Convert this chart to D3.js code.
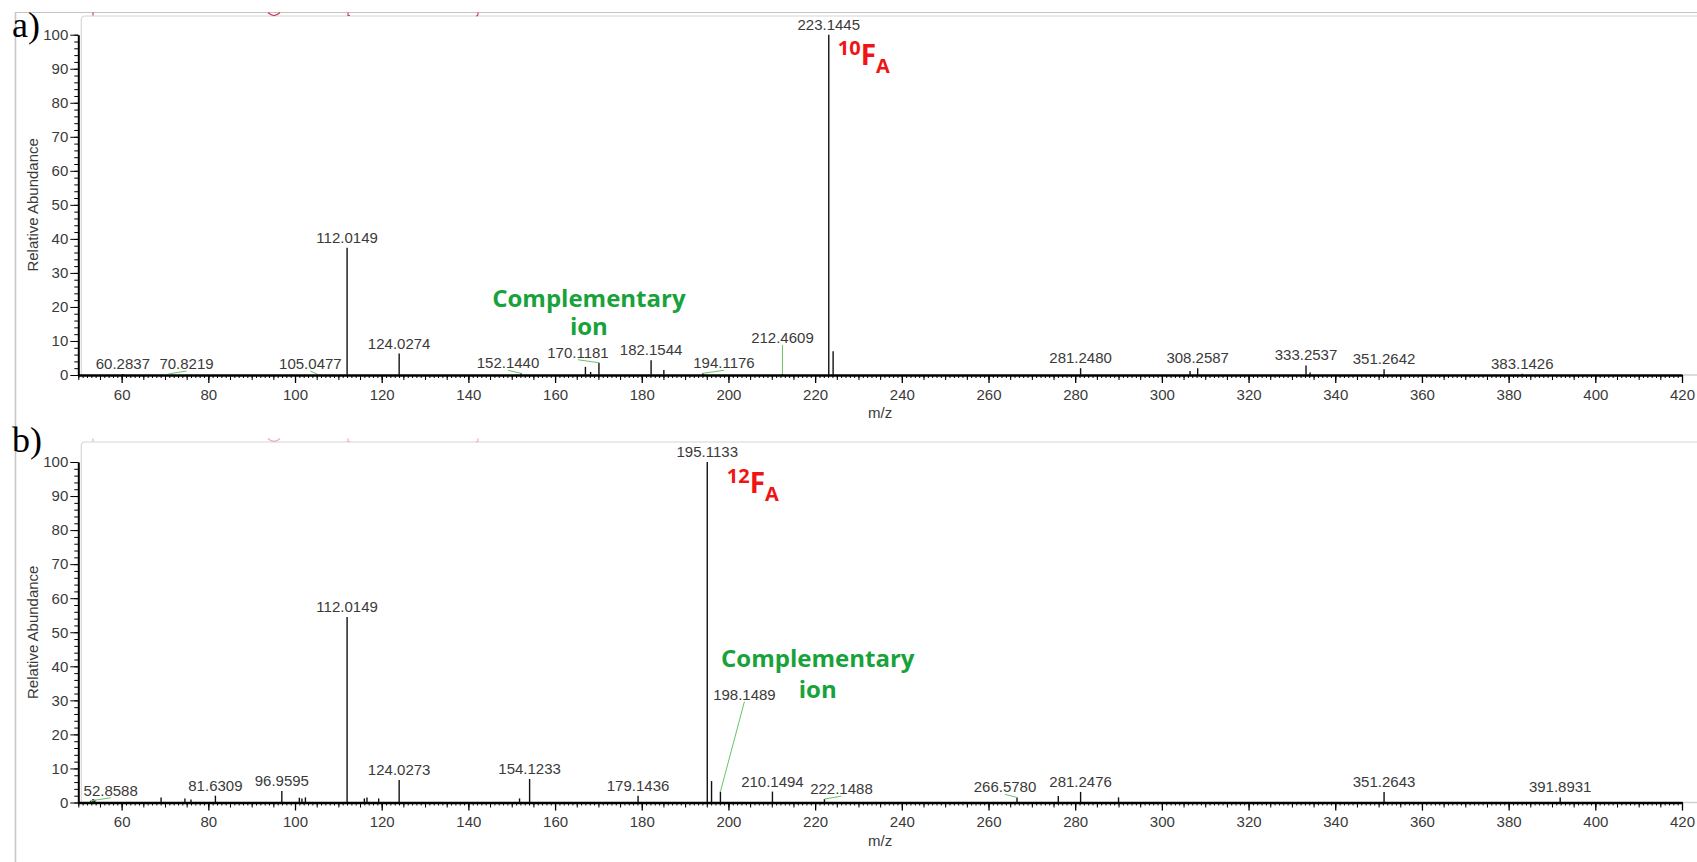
<!DOCTYPE html>
<html>
<head>
<meta charset="utf-8">
<script src="https://cdnjs.cloudflare.com/ajax/libs/d3/7.8.5/d3.min.js"></script>
<style>
	body { margin: 0; background: #fff; }
	svg { display: block; }
	.tick text { font-family: "Liberation Sans", Arial, sans-serif; font-size: 15px; fill: #3a3a3a; }
	.peak-label { font-family: "Liberation Sans", Arial, sans-serif; font-size: 15px; fill: #3a3a3a; }
	.axis-title { font-family: "Liberation Sans", Arial, sans-serif; font-size: 15px; fill: #3a3a3a; }
	.tag { font-family: "Liberation Serif", "Times New Roman", serif; font-size: 36px; fill: #000; }
	.iso { font-family: "Open Sans", sans-serif; font-weight: 700; fill: #f01414; }
	.comp { font-family: "Open Sans", sans-serif; font-weight: 700; font-size: 24px; fill: #17a23a; }
</style>
</head>
<body>
<svg id="chart" width="1697" height="862"></svg>
<script>
// NOTE data
const mzDomain = [50, 420];
const xTickLabels = [60, 80, 100, 120, 140, 160, 180, 200, 220, 240, 260, 280, 300, 320, 340, 360, 380, 400, 420];
const yTickLabels = [0, 10, 20, 30, 40, 50, 60, 70, 80, 90, 100];

// a) [m/z, relative abundance %]
const peaksA = [
	[60.2837, 0.3],
	[70.8219, 0.3],
	[105.0477, 0.3],
	[112.0149, 37.4],
	[124.0274, 6.3],
	[152.144, 0.5],
	[167.0, 2.4],
	[168.2, 0.9],
	[170.1181, 3.6],
	[182.1544, 4.3],
	[185.1, 1.5],
	[194.1176, 0.5],
	[212.4609, 0.3],
	[223.1445, 100],
	[224.15, 7.0],
	[281.248, 2.0],
	[306.5, 1.2],
	[308.2587, 2.0],
	[333.2537, 2.8],
	[334.2, 0.7],
	[351.2642, 1.7],
	[383.1426, 0.4],
];
const labelsA = ['60.2837', '70.8219', '105.0477', '112.0149', '124.0274', '152.1440', '170.1181',
	'182.1544', '194.1176', '212.4609', '223.1445', '281.2480', '308.2587', '333.2537', '351.2642', '383.1426'];

// b) [m/z, relative abundance %]
const peaksB = [
	[52.8588, 0.5],
	[53.4, 1.0],
	[53.8, 0.8],
	[69.1, 1.5],
	[74.6, 1.2],
	[76.0, 0.9],
	[81.6309, 2.0],
	[96.9595, 3.4],
	[101.0, 1.4],
	[101.6, 1.2],
	[102.4, 1.5],
	[112.0149, 54.5],
	[116.0, 1.2],
	[116.6, 1.5],
	[119.3, 1.2],
	[124.0273, 6.6],
	[151.8, 1.2],
	[154.1233, 6.9],
	[179.1436, 2.0],
	[195.1133, 100],
	[196.1, 6.3],
	[198.1489, 3.2],
	[210.1494, 3.2],
	[222.1488, 1.0],
	[266.578, 1.5],
	[276.1, 1.9],
	[281.2476, 3.1],
	[290.0, 1.5],
	[351.2643, 3.1],
	[391.8931, 1.5],
];
const labelsB = ['52.8588', '81.6309', '96.9595', '112.0149', '124.0273', '154.1233', '179.1436', '195.1133',
	'198.1489', '210.1494', '222.1488', '266.5780', '281.2476', '351.2643', '391.8931'];

// label nudges in px [dx, dy] (with a green leader line back to the peak)
const nudgeA = { '70.8219': [18, 0], '105.0477': [-6.5, 0], '152.1440': [-13, 0], '170.1181': [-21, 0], '194.1176': [21, 0], '212.4609': [0, -26] };
const nudgeB = { '52.8588': [20, 0], '198.1489': [24, -87], '222.1488': [17, 0], '266.5780': [-12, 0] };

const panels = [
	{ tag: 'a)', tagY: 37, y0: 375, y100: 34.7, peaks: peaksA, labels: labelsA, nudge: nudgeA,
		base: '223.1445', iso: '10', isoDx: 9, comp: [[167.8, 20.0], [167.8, 11.75]], frameY: 16 },
	{ tag: 'b)', tagY: 452, y0: 802.5, y100: 462, peaks: peaksB, labels: labelsB, nudge: nudgeB,
		base: '195.1133', iso: '12', isoDx: 19.5, comp: [[220.6, 39.8], [220.6, 30.7]], frameY: 442 },
];

const svg = d3.select('#chart');
const x = d3.scaleLinear().domain(mzDomain).range([78.3, 1682]);

// NOTE screenshot frame
svg.append('line').attr('x1', 15).attr('x2', 1697).attr('y1', 12.5).attr('y2', 12.5)
	.attr('stroke', '#c4c4c4').attr('stroke-width', 1.2);
svg.append('line').attr('x1', 15.5).attr('x2', 15.5).attr('y1', 12).attr('y2', 862)
	.attr('stroke', '#c8c8c8').attr('stroke-width', 1.6);

panels.forEach((p) => {
	const y = d3.scaleLinear().domain([0, 100]).range([p.y0, p.y100]);
	const g = svg.append('g');

	// inner plot frame with rounded corner
	g.append('path')
		.attr('d', `M${x.range()[0] + 3},${p.y0} V${p.frameY + 4} q0,-4 4,-4 H1697`)
		.attr('fill', 'none').attr('stroke', '#d6d6d6').attr('stroke-width', 1.2);

	// cut-off red title remnants
	const ty = p.frameY - 3.5;
	const red = p.tag === 'a)' ? '#d23c5a' : '#eab0bd';
	g.append('path')
		.attr('d', `M93,${ty} v3 M268,${ty} q6,6 12,0 M348,${ty} v3 h2 M478,${ty} v2 q0,1.5 -2,1.5`)
		.attr('fill', 'none').attr('stroke', red).attr('stroke-width', 1.2);

	// baseline continuation past 420
	g.append('line').attr('x1', x.range()[1]).attr('x2', 1697).attr('y1', p.y0).attr('y2', p.y0)
		.attr('stroke', '#d0d0d0').attr('stroke-width', 1.5);

	// y axis
	g.append('g')
		.attr('transform', `translate(${x.range()[0]},0)`)
		.call(d3.axisLeft(y).tickValues(d3.range(0, 101, 2)).tickSize(4).tickSizeOuter(0).tickFormat(''))
		.call((a) => a.select('.domain').remove());
	const ya = g.append('g')
		.attr('transform', `translate(${x.range()[0]},0)`)
		.call(d3.axisLeft(y).tickValues(yTickLabels).tickSize(8).tickSizeOuter(0).tickPadding(2));
	ya.select('.domain').attr('stroke-width', 2);

	// x axis
	g.append('g')
		.attr('transform', `translate(0,${p.y0})`)
		.call(d3.axisBottom(x).tickValues(d3.range(50, 421, 1)).tickSize(3).tickSizeOuter(0).tickFormat(''))
		.call((a) => a.select('.domain').remove());
	g.append('g')
		.attr('transform', `translate(0,${p.y0})`)
		.call(d3.axisBottom(x).tickValues(d3.range(50, 421, 5)).tickSize(5).tickSizeOuter(0).tickFormat(''))
		.call((a) => a.select('.domain').remove());
	const xa = g.append('g')
		.attr('transform', `translate(0,${p.y0})`)
		.call(d3.axisBottom(x).tickValues(xTickLabels).tickSize(8).tickSizeOuter(0).tickPadding(6));
	xa.select('.domain').attr('stroke-width', 2.5);
	xa.selectAll('.tick line').attr('stroke-width', 1.3);

	// axis titles
	g.append('text').attr('class', 'axis-title')
		.attr('transform', `translate(38,${(p.y0 + p.y100) / 2}) rotate(-90)`)
		.attr('text-anchor', 'middle').text('Relative Abundance');
	g.append('text').attr('class', 'axis-title')
		.attr('x', x(235)).attr('y', p.y0 + 43).attr('text-anchor', 'middle').text('m/z');

	g.append('text').attr('class', 'tag').attr('x', 12).attr('y', p.tagY).text(p.tag);

	// peaks
	g.append('g').selectAll('line')
		.data(p.peaks)
		.enter()
		.append('line')
		.attr('x1', (d) => x(d[0])).attr('x2', (d) => x(d[0]))
		.attr('y1', y(0)).attr('y2', (d) => y(d[1]))
		.attr('stroke', '#111').attr('stroke-width', 1.4);

	// peak labels
	const labelled = p.peaks
		.filter((d) => p.labels.includes(d[0].toFixed(4)))
		.map((d) => {
			const key = d[0].toFixed(4);
			const n = p.nudge[key] || [0, 0];
			return { key, px: x(d[0]), py: y(d[1]), lx: x(d[0]) + n[0], ly: y(d[1]) - 5 + n[1], moved: !!p.nudge[key] };
		});

	g.append('g').selectAll('path')
		.data(labelled.filter((d) => d.moved))
		.enter()
		.append('path')
		.attr('d', (d) => `M${d.px},${d.py} L${d.lx},${d.ly + 2}`)
		.attr('fill', 'none').attr('stroke', '#66c466').attr('stroke-width', 1);

	g.append('g').selectAll('text')
		.data(labelled)
		.enter()
		.append('text')
		.attr('class', 'peak-label')
		.attr('x', (d) => d.lx).attr('y', (d) => d.ly)
		.attr('text-anchor', 'middle')
		.text((d) => d.key);

	// isotope tag next to base peak
	const bx = x(+p.base) + p.isoDx;
	const iso = g.append('text').attr('class', 'iso').attr('x', bx).attr('y', y(100) + 20.5);
	iso.append('tspan').attr('font-size', 20).text(p.iso);
	iso.append('tspan').attr('font-size', 28).attr('dy', 10).text('F');
	iso.append('tspan').attr('font-size', 20).attr('dy', 8).text('A');

	// complementary ion note
	g.append('text').attr('class', 'comp').attr('text-anchor', 'middle')
		.attr('x', x(p.comp[0][0])).attr('y', y(p.comp[0][1])).text('Complementary');
	g.append('text').attr('class', 'comp').attr('text-anchor', 'middle')
		.attr('x', x(p.comp[1][0])).attr('y', y(p.comp[1][1])).text('ion');
});
</script>
</body>
</html>
